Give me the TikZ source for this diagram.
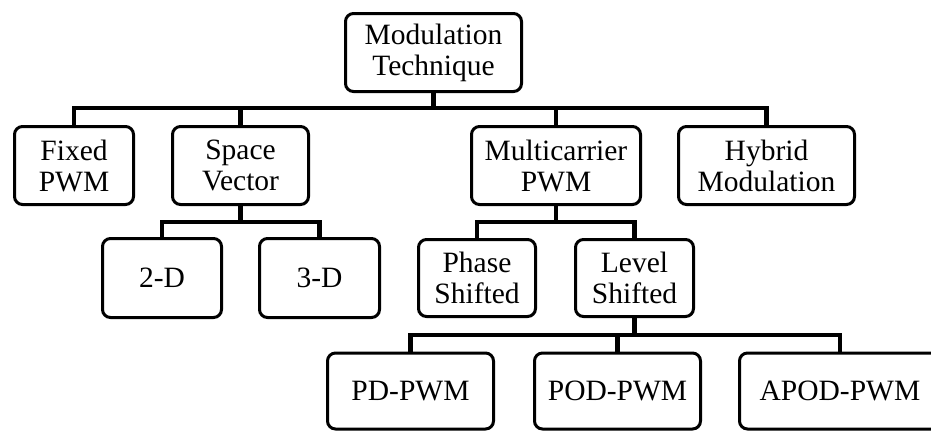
\documentclass[tikz,border=0pt]{standalone}
\usepackage{fontspec}
\setmainfont{Liberation Serif}
\begin{document}
\begin{tikzpicture}[x=1pt,y=-1pt,
  box/.style={draw=black, line width=3pt, rounded corners=8pt, fill=white,
    inner sep=0pt, align=center, font=\fontsize{29.5}{31}\selectfont},
  conn/.style={draw=black, line width=4.5pt}]
\useasboundingbox (0,0) rectangle (931,432);
\clip (0,0) rectangle (931,432);
% nodes
\node[box, minimum width=176pt, minimum height=78pt] (top) at (433.5,52.5) {Modulation\\Technique};
\node[box, minimum width=119pt, minimum height=78pt] (fixed) at (74,165.5) {Fixed\\PWM};
\node[box, minimum width=136pt, minimum height=78pt] (space) at (240.5,165.5) {Space\\Vector};
\node[box, minimum width=169pt, minimum height=78pt] (multi) at (556,165.5) {Multicarrier\\PWM};
\node[box, minimum width=176pt, minimum height=78pt] (hybrid) at (766.5,165.5) {Hybrid\\Modulation};
\node[box, minimum width=119pt, minimum height=79pt] (twod) at (162,278) {2-D};
\node[box, minimum width=120pt, minimum height=79pt] (threed) at (319.5,278) {3-D};
\node[box, minimum width=117pt, minimum height=77pt] (phase) at (477,278) {Phase\\Shifted};
\node[box, minimum width=118pt, minimum height=77pt] (level) at (634.5,278) {Level\\Shifted};
\node[box, minimum width=166pt, minimum height=76pt] (pd) at (410.5,391) {PD-PWM};
\node[box, minimum width=166pt, minimum height=76pt] (pod) at (617.5,391) {POD-PWM};
\node[box, minimum width=201pt, minimum height=76pt] (apod) at (840,391) {APOD-PWM};
% bus levels
\coordinate (bus1) at (434,108);
\coordinate (bus2) at (240,222);
\coordinate (bus3) at (636,335);
% connectors
\foreach \c in {fixed,space,multi,hybrid}
  \draw[conn] (top.south) -- (top.south |- bus1) -| (\c.north);
\foreach \c in {twod,threed}
  \draw[conn] (space.south) -- (space.south |- bus2) -| (\c.north);
\foreach \c in {phase,level}
  \draw[conn] (multi.south) -- (multi.south |- bus2) -| (\c.north);
\foreach \c in {pd,pod,apod}
  \draw[conn] (level.south) -- (level.south |- bus3) -| (\c.north);
\end{tikzpicture}
\end{document}
